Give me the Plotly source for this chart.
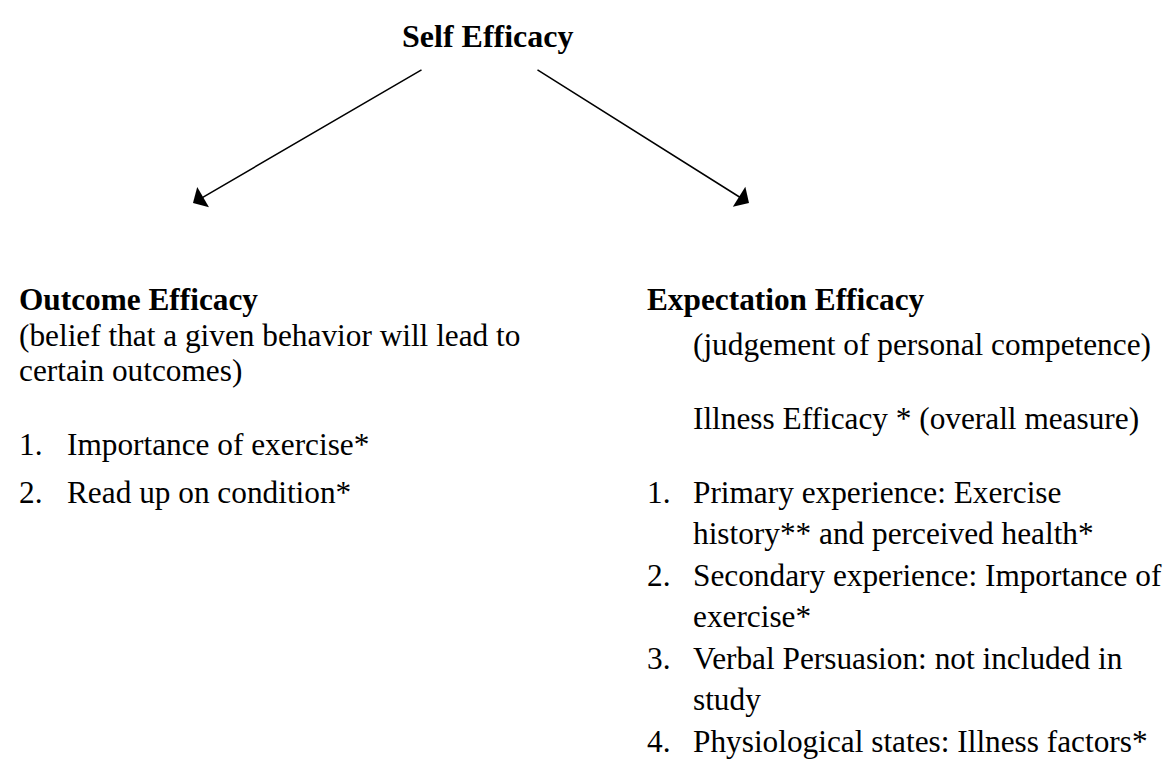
import plotly.graph_objects as go

# diagram text
title_text = "Self Efficacy"

left_heading = "Outcome Efficacy"
left_desc = ["(belief that a given behavior will lead to", "certain outcomes)"]
left_items = ["Importance of exercise*", "Read up on condition*"]

right_heading = "Expectation Efficacy"
right_desc = ["(judgement of personal competence)", "Illness Efficacy * (overall measure)"]
right_items = [
    ["Primary experience: Exercise", "history** and perceived health*"],
    ["Secondary experience: Importance of", "exercise*"],
    ["Verbal Persuasion: not included in", "study"],
    ["Physiological states: Illness factors*"],
]

# page layout (pixels, origin top-left)
W, H = 1171, 763
FONT = "Liberation Serif, Times New Roman, serif"
TITLE_SIZE = 32
SIZE = 31.3

fig = go.Figure()


def add_text(x, y, text, bold=False, anchor="left", size=SIZE):
    fig.add_annotation(
        x=x, y=y, xref="x", yref="y",
        text=f"<b>{text}</b>" if bold else text,
        showarrow=False, xanchor=anchor, yanchor="middle",
        borderpad=0,
        font=dict(family=FONT, size=size, color="black"),
    )


def add_arrow(x0, y0, x1, y1):
    fig.add_annotation(
        x=x1, y=y1, ax=x0, ay=y0,
        xref="x", yref="y", axref="x", ayref="y",
        text="", showarrow=True,
        arrowhead=1, arrowsize=2.6, arrowwidth=1.5, arrowcolor="black",
        standoff=0, startstandoff=0,
    )


# title + arrows
add_text(480, 28, title_text, bold=True, anchor="center", size=TITLE_SIZE)
add_arrow(415, 61, 185, 195)
add_arrow(528, 61, 741, 195)

# left column
lx, lindent = 10, 58
add_text(lx, 291, left_heading, bold=True)
for i, line in enumerate(left_desc):
    add_text(lx, 327 + i * 35.5, line)
for i, item in enumerate(left_items):
    y = 436 + i * 48
    add_text(lx, y, f"{i + 1}.")
    add_text(lindent, y, item)

# right column
rx, rindent = 638, 684
add_text(rx, 291, right_heading, bold=True)
add_text(rindent, 336, right_desc[0])
add_text(rindent, 410, right_desc[1])
y = 484
for i, item in enumerate(right_items):
    add_text(rx, y, f"{i + 1}.")
    for line in item:
        add_text(rindent, y, line)
        y += 41.5

fig.update_xaxes(range=[0, W], visible=False, fixedrange=True)
fig.update_yaxes(range=[H, 0], visible=False, fixedrange=True)
fig.update_layout(
    width=W, height=H,
    margin=dict(l=0, r=0, t=0, b=0),
    plot_bgcolor="white", paper_bgcolor="white",
    showlegend=False,
)

fig.write_html("out.html")
